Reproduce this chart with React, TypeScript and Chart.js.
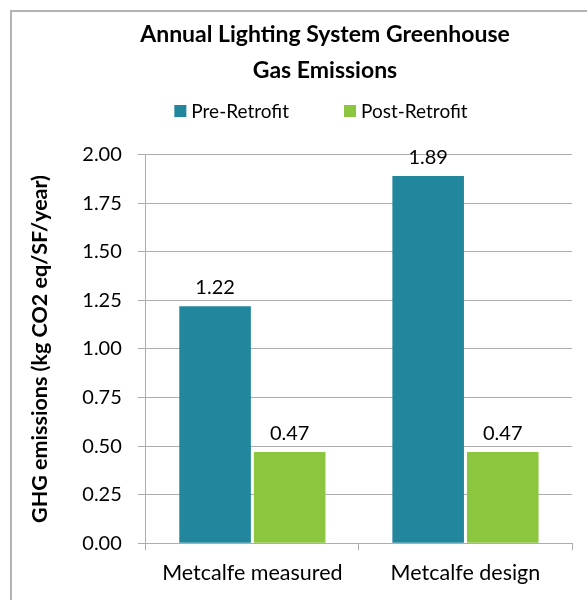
import React, { useEffect, useRef } from "react";
import { Chart, registerables } from "chart.js";

Chart.register(...registerables);

const categories = ["Metcalfe measured", "Metcalfe design"];
const seriesNames = ["Pre-Retrofit", "Post-Retrofit"];
const preRetrofit = [1.22, 1.89];
const postRetrofit = [0.47, 0.47];
const titleLines = ["Annual Lighting System Greenhouse", "Gas Emissions"];
const yAxisTitle = "GHG emissions (kg CO2 eq/SF/year)";
const yMin = 0;
const yMax = 2;
const yStep = 0.25;

const FONT = "Lato";
const TEAL = "#22869D";
const GREEN = "#8CC63F";
const GRID = "#ADADAD";
const CANVAS_W = 627;
const CANVAS_H = 600;
const PLOT_RIGHT = 572;
const LEGEND_SHIFT = -4;

const framePlugin = {
  id: "frame",
  beforeDraw(chart: any) {
    const ctx = chart.ctx;
    ctx.save();
    ctx.fillStyle = "#ffffff";
    ctx.fillRect(0, 0, chart.width, chart.height);
    ctx.strokeStyle = "#B3B3B3";
    ctx.lineWidth = 2;
    ctx.beginPath();
    ctx.moveTo(11, chart.height);
    ctx.lineTo(11, 11);
    ctx.lineTo(chart.width, 11);
    ctx.stroke();
    ctx.restore();
  },
};

const legendPlugin = {
  id: "customLegend",
  afterDraw(chart: any) {
    const ctx = chart.ctx;
    const tb = chart.titleBlock;
    const cx = (tb.left + tb.right) / 2 + LEGEND_SHIFT;
    const y = 111;
    const box = 12;
    const gapText = 5;
    const gapItem = 55;
    ctx.save();
    ctx.font = `19px ${FONT}`;
    const items = chart.data.datasets.map((ds: any) => ({
      label: ds.label,
      color: ds.backgroundColor,
      w: ctx.measureText(ds.label).width,
    }));
    const total =
      items.reduce((s: number, it: any) => s + box + gapText + it.w, 0) +
      gapItem * (items.length - 1);
    let x = cx - total / 2;
    ctx.textBaseline = "middle";
    ctx.textAlign = "left";
    items.forEach((it: any) => {
      ctx.fillStyle = it.color;
      ctx.fillRect(x, y - box / 2, box, box);
      x += box + gapText;
      ctx.fillStyle = "#000";
      ctx.fillText(it.label, x, y + 1);
      x += it.w + gapItem;
    });
    ctx.restore();
  },
};

const valueLabelPlugin = {
  id: "valueLabels",
  afterDatasetsDraw(chart: any) {
    const ctx = chart.ctx;
    ctx.save();
    ctx.font = `20px ${FONT}`;
    ctx.fillStyle = "#000";
    ctx.textAlign = "center";
    ctx.textBaseline = "alphabetic";
    chart.data.datasets.forEach((ds: any, i: number) => {
      const meta = chart.getDatasetMeta(i);
      meta.data.forEach((bar: any, j: number) => {
        ctx.fillText(Number(ds.data[j]).toFixed(2), bar.x, bar.y - 12);
      });
    });
    ctx.restore();
  },
};

export default function App() {
  const canvasRef = useRef<HTMLCanvasElement | null>(null);

  useEffect(() => {
    if (!canvasRef.current) return;
    const chart = new Chart(canvasRef.current, {
      type: "bar",
      data: {
        labels: categories,
        datasets: [
          {
            label: seriesNames[0],
            data: preRetrofit,
            backgroundColor: TEAL,
            categoryPercentage: 0.7,
            barPercentage: 0.96,
          },
          {
            label: seriesNames[1],
            data: postRetrofit,
            backgroundColor: GREEN,
            categoryPercentage: 0.7,
            barPercentage: 0.96,
          },
        ],
      },
      options: {
        responsive: false,
        animation: false,
        layout: { padding: { left: 23, right: 0, top: 0, bottom: 4 } },
        plugins: {
          legend: { display: false },
          tooltip: { enabled: false },
          title: {
            display: true,
            text: titleLines,
            color: "#000",
            font: { family: FONT, size: 23, weight: "bold", lineHeight: 1.58 },
            padding: { top: 16, bottom: 66 },
          },
        },
        scales: {
          x: {
            grid: {
              display: true,
              drawOnChartArea: false,
              color: GRID,
              tickLength: 7,
              offset: true,
            },
            border: { color: GRID, width: 1 },
            ticks: {
              color: "#000",
              font: { family: FONT, size: 21.5 },
              padding: 10,
              maxRotation: 0,
            },
          },
          y: {
            min: yMin,
            max: yMax,
            ticks: {
              stepSize: yStep,
              callback: (v: any) => Number(v).toFixed(2),
              color: "#000",
              font: { family: FONT, size: 20 },
              padding: 16,
            },
            grid: { color: GRID, tickLength: 8 },
            border: { color: GRID },
            title: {
              display: true,
              text: yAxisTitle,
              color: "#000",
              font: { family: FONT, size: 21.5, weight: "bold" },
              padding: { top: 4, bottom: 13.5 },
            },
          },
          yR: {
            type: "linear",
            position: "right",
            display: true,
            grid: { display: false },
            border: { display: false },
            ticks: { display: false },
            afterFit: (s: any) => {
              s.width = CANVAS_W - PLOT_RIGHT;
            },
          },
        },
      } as any,
      plugins: [framePlugin, legendPlugin, valueLabelPlugin],
    });
    return () => chart.destroy();
  }, []);

  return (
    <div
      style={{
        position: "fixed",
        left: 0,
        top: 0,
        width: 587,
        height: 600,
        overflow: "hidden",
        background: "#fff",
      }}
    >
      <canvas
        ref={canvasRef}
        width={CANVAS_W}
        height={CANVAS_H}
        style={{ display: "block" }}
      />
    </div>
  );
}
